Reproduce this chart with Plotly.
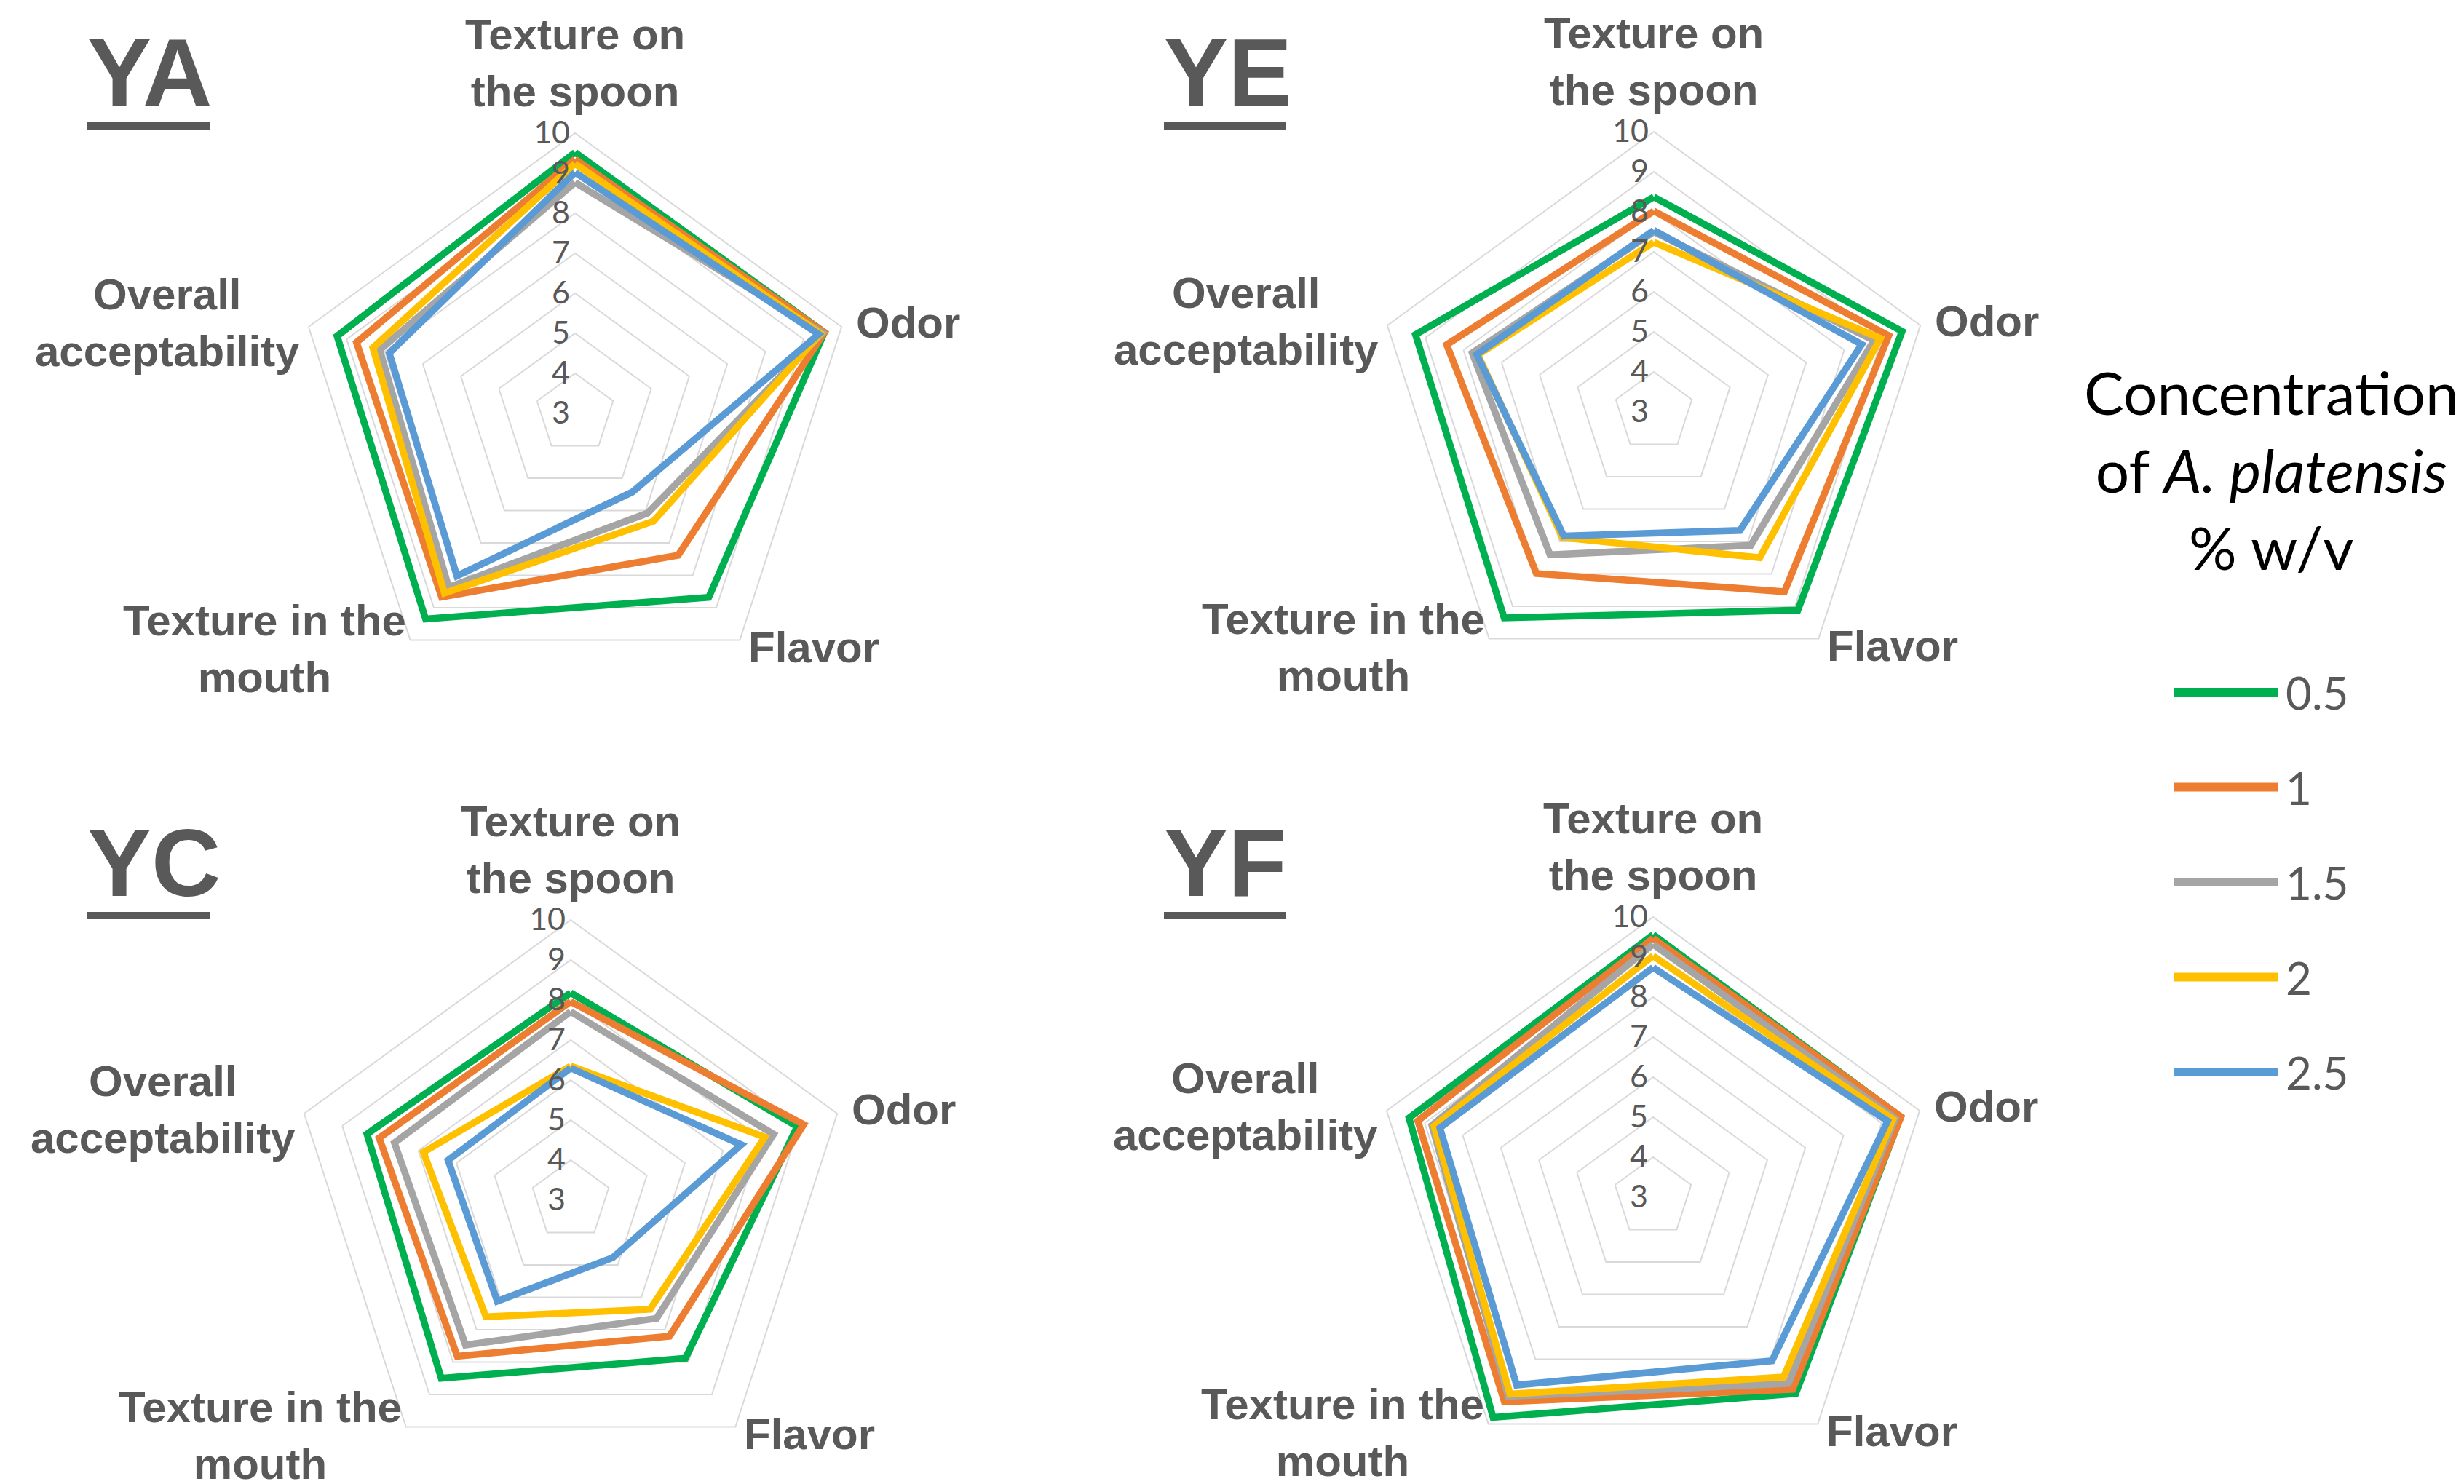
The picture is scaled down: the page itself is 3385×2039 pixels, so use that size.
import math
import plotly.graph_objects as go

W, H = 3385, 2039

categories = ["Texture on the spoon", "Odor", "Flavor", "Texture in the mouth", "Overall acceptability"]
cat_labels = ["Texture on<br>the spoon", "Odor", "Flavor", "Texture in the<br>mouth", "Overall<br>acceptability"]
series_names = ["0.5", "1", "1.5", "2", "2.5"]
series_colors = ["#00B050", "#ED7D31", "#A5A5A5", "#FFC000", "#5B9BD5"]
radial_ticks = [3, 4, 5, 6, 7, 8, 9, 10]

panel_names = ["YA", "YE", "YC", "YF"]

YA_05 = [9.52, 9.55, 8.68, 9.35, 9.25]
YA_1 = [9.35, 9.55, 7.38, 8.67, 8.74]
YA_15 = [8.77, 9.50, 6.08, 8.37, 8.13]
YA_2 = [9.24, 9.45, 6.33, 8.55, 8.31]
YA_25 = [9.02, 9.40, 5.43, 8.02, 7.88]

YE_05 = [8.37, 9.52, 9.12, 9.36, 9.26]
YE_1 = [8.02, 9.17, 8.55, 7.99, 8.44]
YE_15 = [7.50, 8.78, 7.12, 7.41, 7.77]
YE_2 = [7.24, 8.95, 7.50, 6.88, 7.62]
YE_25 = [7.54, 8.46, 6.66, 6.83, 7.65]

YC_05 = [8.18, 8.95, 7.88, 8.50, 8.35]
YC_1 = [7.96, 9.12, 7.20, 7.82, 8.03]
YC_15 = [7.71, 8.33, 6.65, 7.47, 7.63]
YC_2 = [6.35, 8.10, 6.37, 6.60, 6.87]
YC_25 = [6.30, 7.48, 4.78, 6.12, 6.22]

YF_05 = [9.56, 9.50, 9.06, 9.80, 9.41]
YF_1 = [9.47, 9.51, 8.93, 9.32, 9.18]
YF_15 = [9.32, 9.36, 8.75, 9.15, 8.81]
YF_2 = [9.03, 9.30, 8.55, 9.08, 8.75]
YF_25 = [8.74, 9.16, 8.05, 8.80, 8.60]

panel_data = {
    "YA": [YA_05, YA_1, YA_15, YA_2, YA_25],
    "YE": [YE_05, YE_1, YE_15, YE_2, YE_25],
    "YC": [YC_05, YC_1, YC_15, YC_2, YC_25],
    "YF": [YF_05, YF_1, YF_15, YF_2, YF_25],
}

# layout geometry (pixels)
R = 385
centers = {"YA": (782, 560), "YE": (2264, 558), "YC": (776, 1641), "YF": (2263, 1637)}
title_pos = {"YA": (110, 92), "YE": (1589, 92), "YC": (110, 1177), "YF": (1589, 1177)}

GRAY_TXT = "#595959"
GRID = "#D9D9D9"
LABEL_FONT = dict(family="Liberation Sans, Arial, sans-serif", size=60, color=GRAY_TXT)


def px(x):
    return x / W


def py(y):
    return 1 - y / H


fig = go.Figure()
layout_extra = {}
annotations = []
shapes = []

for i, name in enumerate(panel_names):
    polar_id = "polar" if i == 0 else f"polar{i + 1}"
    cx, cy = centers[name]
    layout_extra[polar_id] = dict(
        domain=dict(x=[px(cx - R), px(cx + R)], y=[py(cy + R), py(cy - R)]),
        bgcolor="white",
        gridshape="linear",
        radialaxis=dict(
            range=[3, 10], tickvals=radial_ticks, angle=90, tickangle=90,
            showline=False, ticks="",
            ticksuffix="\u00a0\u00a0\u00a0",
            gridcolor=GRID, gridwidth=2,
            side="counterclockwise",
            tickfont=dict(family="Lato, sans-serif", size=43, color=GRAY_TXT),
        ),
        angularaxis=dict(
            direction="clockwise", rotation=90, showgrid=False, showline=True,
            linecolor=GRID, linewidth=2, showticklabels=False, ticks="",
        ),
    )
    for vals, sname, col in zip(panel_data[name], series_names, series_colors):
        fig.add_trace(go.Scatterpolar(
            r=vals + [vals[0]], theta=categories + [categories[0]],
            mode="lines", name=sname, line=dict(color=col, width=9.5),
            subplot=polar_id, showlegend=False,
        ))

    # category labels around each pentagon
    verts = []
    for k in range(5):
        ang = math.radians(90 - 72 * k)
        verts.append((cx + R * math.cos(ang), cy - R * math.sin(ang)))
    specs = [
        (verts[0][0], verts[0][1] - 22, "center", "bottom"),
        (verts[1][0] + 18, verts[1][1] - 6, "left", "middle"),
        (verts[2][0] + 10, verts[2][1] + 10, "left", "middle"),
        (verts[3][0] - 4, verts[3][1] + 12, "right", "middle"),
        (verts[4][0] - 10, verts[4][1] - 6, "right", "middle"),
    ]
    for lab, (x, y, xa, ya) in zip(cat_labels, specs):
        annotations.append(dict(
            x=px(x), y=py(y), xref="paper", yref="paper", text=f"<b>{lab}</b>",
            showarrow=False, xanchor=xa, yanchor=ya, align="center", font=LABEL_FONT,
        ))

    # panel title
    tx, ty = title_pos[name]
    annotations.append(dict(
        x=px(tx), y=py(ty), xref="paper", yref="paper", text=f"<b>{name}</b>",
        showarrow=False, xanchor="left", yanchor="middle",
        font=dict(family="Liberation Sans, Arial, sans-serif", size=132, color=GRAY_TXT),
    ))
    shapes.append(dict(
        type="line", xref="paper", yref="paper",
        x0=px(tx + 2), x1=px(tx + 170), y0=py(ty + 73), y1=py(ty + 73),
        line=dict(color=GRAY_TXT, width=10),
    ))

# legend (drawn manually to match long line samples)
annotations.append(dict(
    x=px(3112), y=py(636), xref="paper", yref="paper",
    text="Concentration<br>of <i>A. platensis</i><br>% w/v",
    showarrow=False, xanchor="center", yanchor="middle", align="center",
    font=dict(family="Lato, sans-serif", size=82, color="black"),
))
leg_y0, leg_dy = 943, 130.5
for j, (sname, col) in enumerate(zip(series_names, series_colors)):
    yy = leg_y0 + j * leg_dy
    shapes.append(dict(
        type="line", xref="paper", yref="paper",
        x0=px(2978), x1=px(3122), y0=py(yy), y1=py(yy),
        line=dict(color=col, width=12),
    ))
    annotations.append(dict(
        x=px(3130), y=py(yy), xref="paper", yref="paper", text=sname,
        showarrow=False, xanchor="left", yanchor="middle",
        font=dict(family="Lato, sans-serif", size=62, color=GRAY_TXT),
    ))

fig.update_layout(
    width=W, height=H, margin=dict(l=0, r=0, t=0, b=0),
    paper_bgcolor="white", plot_bgcolor="white",
    annotations=annotations, shapes=shapes, showlegend=False,
    **layout_extra,
)

fig.write_html("out.html")
